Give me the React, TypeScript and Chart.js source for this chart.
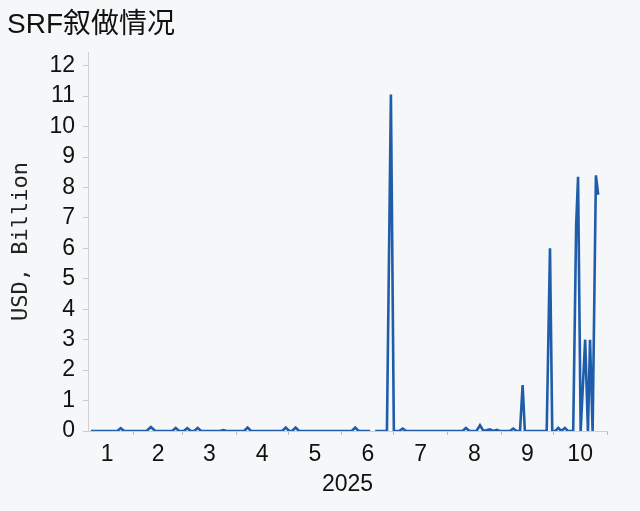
import React, { useEffect, useRef } from 'react';
import { Chart, registerables } from 'chart.js';

Chart.register(...registerables);

const titleText = 'SRF叙做情况';
const yAxisTitle = 'USD, Billion';
const xAxisTitle = '2025';
const monthLabels = ['1', '2', '3', '4', '5', '6', '7', '8', '9', '10'];
// day-of-year of the first day of each month (Jan..Nov 2025)
const monthStartDays = [1, 32, 60, 91, 121, 152, 182, 213, 244, 274, 305];
const yTickValues = [0, 1, 2, 3, 4, 5, 6, 7, 8, 9, 10, 11, 12];

// SRF usage, day of year 2025 -> USD billion (null = missing)
const dayOfYear = [
  7.2, 22.4, 24.4, 26.4, 39.3, 41.8, 44.3, 54.1, 56.1, 58.1, 60.8, 62.8, 64.8, 66.8, 68.8, 70.8,
  81.6, 83.6, 85.6, 95.6, 97.6, 99.6, 117.6, 119.6, 121.6, 123.3, 125.3, 127.3, 157.7, 159.7, 161.7,
  168.3, 169.5, 171.2, 178.0, 180.3, 182.0, 185.1, 187.1, 189.1, 221.6, 223.6, 225.6, 229.7, 231.7,
  233.7, 237.4, 239.4, 241.5, 243.0, 249.0, 250.9, 252.8, 254.8, 256.3, 257.6, 270.2, 272.1, 273.4,
  275.2, 276.9, 278.6, 280.7, 282.4, 285.5, 287.2, 288.3, 289.8, 292.4, 294.0, 295.2, 296.7, 298.6,
  299.9,
];
const srfUsage: (number | null)[] = [
  0, 0, 0.09, 0, 0, 0.13, 0, 0, 0.1, 0, 0, 0.09, 0, 0, 0.1, 0,
  0, 0.03, 0, 0, 0.11, 0, 0, 0.11, 0, 0, 0.11, 0, 0, 0.11, 0,
  0, null, 0, 0, 11.05, 0, 0, 0.08, 0, 0, 0.1, 0, 0, 0.19,
  0, 0.05, 0, 0.04, 0, 0, 0.08, 0, 0, 1.51, 0, 0, 6.0, 0,
  0, 0.1, 0, 0.1, 0, 0, 6.75, 8.35, 0, 3.0, 0, 3.0, 0, 8.4,
  7.76,
];

const X_MIN = 5.5;
const X_MAX = 305;

const monthMids = monthLabels.map((_, i) => (monthStartDays[i] + monthStartDays[i + 1]) / 2);
const boundaryTicks = monthStartDays.filter((d) => d >= X_MIN && d <= X_MAX);

const tickFont = { family: '"Liberation Sans", Arial, sans-serif', size: 23 };

export default function App() {
  const ref = useRef<HTMLCanvasElement | null>(null);

  useEffect(() => {
    if (!ref.current) return;
    const points = dayOfYear.map((d, i) => ({ x: d, y: srfUsage[i] }));
    const chart = new Chart(ref.current, {
      type: 'line',
      data: {
        datasets: [
          {
            data: points as any,
            borderColor: '#1f5dab',
            backgroundColor: '#1f5dab',
            borderWidth: 2.6,
            pointRadius: 0,
            tension: 0,
            spanGaps: false,
          },
        ],
      },
      options: {
        animation: false,
        responsive: false,
        layout: { padding: { left: 7, right: 33, top: 0, bottom: 0 } },
        plugins: {
          legend: { display: false },
          tooltip: { enabled: false },
          title: {
            display: true,
            text: titleText,
            align: 'start',
            color: '#111',
            font: { family: '"Liberation Sans", "Noto Sans CJK SC", sans-serif', size: 28, weight: 'normal' },
            padding: { top: 8, bottom: 10.4 },
          },
        },
        scales: {
          x: {
            type: 'linear',
            min: X_MIN,
            max: X_MAX,
            afterFit: (s: any) => {
              s.height = 80;
            },
            afterBuildTicks: (s: any) => {
              const vals = [...boundaryTicks, ...monthMids].sort((a, b) => a - b);
              s.ticks = vals.map((v) => ({ value: v }));
            },
            ticks: {
              autoSkip: false,
              maxRotation: 0,
              minRotation: 0,
              padding: 6,
              color: '#111',
              font: tickFont,
              callback: (v: any) => {
                const i = monthMids.indexOf(Number(v));
                return i >= 0 ? monthLabels[i] : '';
              },
            },
            grid: {
              drawOnChartArea: false,
              drawTicks: true,
              tickLength: 4,
              tickWidth: 1,
              tickColor: (ctx: any) =>
                ctx.tick && boundaryTicks.includes(ctx.tick.value) ? '#b8b8b8' : 'rgba(0,0,0,0)',
            },
            border: { display: true, color: '#d0d0d0', width: 1 },
            title: {
              display: true,
              text: xAxisTitle,
              color: '#111',
              font: tickFont,
              padding: { top: 0, bottom: 13 },
            },
          },
          y: {
            type: 'linear',
            min: 0,
            max: 12.45,
            afterFit: (s: any) => {
              s.width = 81;
            },
            afterBuildTicks: (s: any) => {
              s.ticks = yTickValues.map((v) => ({ value: v }));
            },
            ticks: {
              padding: 8,
              color: '#111',
              font: tickFont,
            },
            grid: {
              drawOnChartArea: false,
              drawTicks: true,
              tickLength: 5,
              tickColor: '#c8c8c8',
            },
            border: { display: true, color: '#d0d0d0', width: 1 },
            title: {
              display: true,
              text: yAxisTitle,
              color: '#222',
              font: { family: '"DejaVu Sans Mono", monospace', size: 22 },
              padding: { top: 1.5, bottom: 0 },
            },
          },
        },
      },
    });
    return () => chart.destroy();
  }, []);

  return (
    <div
      style={{
        position: 'fixed',
        left: 0,
        top: 0,
        width: 640,
        height: 511,
        background: '#f6f7f8',
      }}
    >
      <canvas ref={ref} width={640} height={511} style={{ display: 'block' }} />
    </div>
  );
}
